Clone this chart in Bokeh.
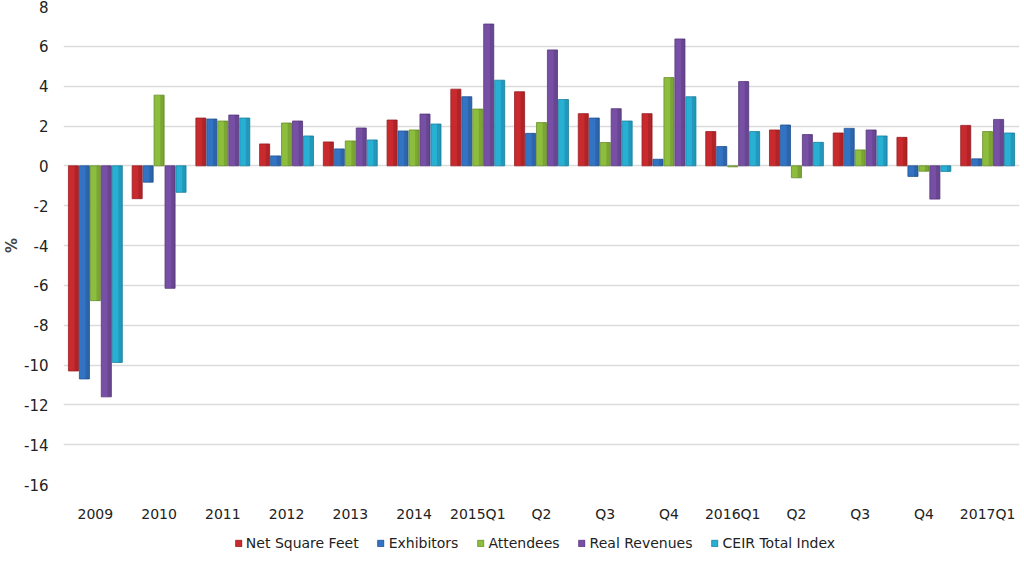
from bokeh.plotting import figure
from bokeh.layouts import column
from bokeh.models import ColumnDataSource, Range1d, FixedTicker, Legend, LegendItem
from bokeh.embed import file_html
from bokeh.resources import INLINE

periods = ["2009", "2010", "2011", "2012", "2013", "2014", "2015Q1", "Q2", "Q3", "Q4",
           "2016Q1", "Q2", "Q3", "Q4", "2017Q1"]
net_square_feet = [-10.3, -1.65, 2.4, 1.1, 1.2, 2.3, 3.85, 3.72, 2.62, 2.62, 1.72, 1.8, 1.65, 1.43, 2.03]
exhibitors = [-10.7, -0.82, 2.35, 0.5, 0.85, 1.75, 3.47, 1.63, 2.4, 0.33, 0.97, 2.05, 1.88, -0.53, 0.35]
attendees = [-6.77, 3.55, 2.25, 2.15, 1.25, 1.8, 2.85, 2.17, 1.17, 4.43, -0.05, -0.6, 0.8, -0.27, 1.72]
real_revenues = [-11.6, -6.15, 2.55, 2.25, 1.9, 2.6, 7.12, 5.82, 2.87, 6.37, 4.23, 1.57, 1.8, -1.67, 2.33]
ceir_total_index = [-9.87, -1.33, 2.4, 1.5, 1.3, 2.1, 4.3, 3.33, 2.25, 3.47, 1.72, 1.18, 1.5, -0.28, 1.65]
y_ticks = list(range(-16, 9, 2))

series_names = ["Net Square Feet", "Exhibitors", "Attendees", "Real Revenues", "CEIR Total Index"]
series_values = [net_square_feet, exhibitors, attendees, real_revenues, ceir_total_index]
colors = ["#c92a2e", "#3373c4", "#8dbd3c", "#7750a5", "#27afd4"]
edge_colors = ["#9a2024", "#245494", "#6a8f2c", "#58397c", "#1b84a1"]

p = figure(frame_width=956, frame_height=478, output_backend="svg", toolbar_location=None,
           x_range=Range1d(-0.5, len(periods) - 0.5), y_range=Range1d(-16, 8),
           min_border_left=48, min_border_right=2, min_border_top=6, min_border_bottom=0)
p.outline_line_color = None
p.background_fill_color = "white"

step = 0.172
width = 0.158
idx = list(range(len(periods)))
for k, (vals, c, ec) in enumerate(zip(series_values, colors, edge_colors)):
    off = (k - 2) * step
    src = ColumnDataSource(dict(x=[i + off for i in idx], xs=[i + off + width * 0.3 for i in idx], top=vals))
    p.vbar(x="x", top="top", bottom=0, width=width, source=src,
           fill_color=c, line_color=ec, line_width=0.8)
    # subtle shading on the right side of each bar (3D look)
    p.vbar(x="xs", top="top", bottom=0, width=width * 0.38, source=src,
           fill_color="black", fill_alpha=0.12, line_color=None)

# y axis
p.yaxis.ticker = FixedTicker(ticks=y_ticks)
p.yaxis.major_label_overrides = {t: str(t) for t in y_ticks}
p.yaxis.axis_line_color = None
p.yaxis.major_tick_line_color = None
p.yaxis.minor_tick_line_color = None
p.yaxis.major_label_text_font = "DejaVu Sans"
p.yaxis.major_label_text_font_size = "15px"
p.yaxis.major_label_text_color = "#222222"
p.yaxis.major_label_standoff = 9
p.yaxis.axis_label = "%"
p.yaxis.axis_label_text_font = "DejaVu Sans"
p.yaxis.axis_label_text_font_size = "15px"
p.yaxis.axis_label_text_font_style = "bold"
p.yaxis.axis_label_standoff = 0

# x axis
p.xaxis.ticker = FixedTicker(ticks=idx)
p.xaxis.major_label_overrides = {i: lab for i, lab in enumerate(periods)}
p.xaxis.axis_line_color = None
p.xaxis.major_tick_line_color = None
p.xaxis.minor_tick_line_color = None
p.xaxis.major_label_text_font = "DejaVu Sans"
p.xaxis.major_label_text_font_size = "14px"
p.xaxis.major_label_text_color = "#222222"
p.xaxis.major_label_standoff = 15

p.xgrid.grid_line_color = None
p.ygrid.ticker = FixedTicker(ticks=y_ticks)
p.ygrid.grid_line_color = "#dcdcdc"
p.ygrid.grid_line_width = 1.5

# legend in its own strip below the chart
lf = figure(width=1008, height=28, output_backend="svg", toolbar_location=None,
            x_range=Range1d(0, 1), y_range=Range1d(0, 1), min_border=0)
lf.axis.visible = False
lf.grid.visible = False
lf.outline_line_color = None
items = []
for name, c, ec in zip(series_names, colors, edge_colors):
    # hidden proxy glyph (outside the visible range) that only supplies the legend swatch
    r = lf.vbar(x=[-5], top=[0], width=0.1, fill_color=c, line_color=ec, line_width=0.8)
    items.append(LegendItem(label=name, renderers=[r]))
legend = Legend(items=items, orientation="horizontal", location="bottom_center",
                glyph_width=8, glyph_height=8, label_standoff=4, spacing=18,
                label_height=14, label_text_font="DejaVu Sans", label_text_font_size="14px",
                label_text_color="#222222", border_line_color=None,
                background_fill_alpha=0, padding=0, margin=1)
lf.add_layout(legend, "center")

layout = column(p, lf, spacing=0)
open("out.html", "w").write(file_html(layout, INLINE))
